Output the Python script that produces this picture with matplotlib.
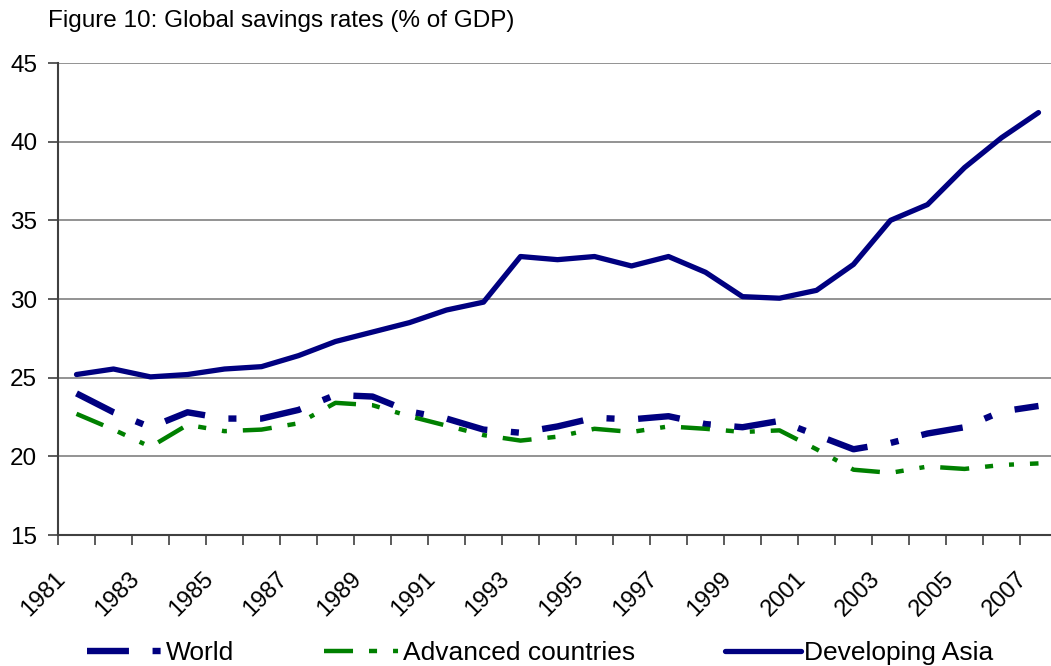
import matplotlib
matplotlib.use("Agg")
import matplotlib.pyplot as plt
from matplotlib.transforms import ScaledTranslation
import numpy as np

plt.rcParams["font.family"] = ["Liberation Sans", "DejaVu Sans"]
plt.rcParams["lines.scale_dashes"] = False

years = list(range(1981, 2008))

world = [24.0, 22.8, 21.85, 22.8, 22.4, 22.4, 22.95, 23.9, 23.8, 22.85,
         22.4, 21.7, 21.5, 21.9, 22.45, 22.35, 22.55, 22.05, 21.85, 22.25,
         21.35, 20.45, 20.85, 21.45, 21.85, 22.85, 23.2]

advanced = [22.7, 21.7, 20.6, 22.0, 21.6, 21.7, 22.1, 23.4, 23.25, 22.55,
            21.95, 21.35, 21.0, 21.25, 21.75, 21.55, 21.9, 21.75, 21.55, 21.65,
            20.45, 19.15, 18.95, 19.35, 19.2, 19.45, 19.55]

developing_asia = [25.2, 25.55, 25.05, 25.2, 25.55, 25.7, 26.4, 27.3, 27.9, 28.5,
                   29.3, 29.8, 32.7, 32.5, 32.7, 32.1, 32.7, 31.7, 30.15, 30.05,
                   30.55, 32.2, 35.0, 36.0, 38.35, 40.25, 41.85]

NAVY = "#000080"
GREEN = "#008000"

fig = plt.figure(figsize=(10.51, 6.66), dpi=100)
ax = fig.add_axes([58 / 1051, 1 - 535 / 666, 999 / 1051, (535 - 63) / 666])

x = np.arange(len(years))
ax.plot(x, world, color=NAVY, lw=4.6, linestyle=(0, (30.2, 17.0, 5.8, 17.0)),
        dash_capstyle="butt", label="World")
ax.plot(x, advanced, color=GREEN, lw=3.2,
        linestyle=(0, (20.9, 11.5, 5.8, 11.5, 3.6, 11.5)),
        dash_capstyle="butt", label="Advanced countries")
ax.plot(x, developing_asia, color=NAVY, lw=3.8, solid_capstyle="round",
        solid_joinstyle="round", label="Developing Asia")

ax.set_xlim(-0.5, len(years) - 0.5)
ax.set_ylim(15, 45)
ax.set_yticks(range(15, 46, 5))
ax.yaxis.grid(True, color="#808080", lw=1.2)
ax.set_axisbelow(True)

# category boundaries get the tick marks, odd years get the labels
ax.set_xticks(np.arange(-0.5, len(years) - 0.5, 1.0))
ax.set_xticklabels([])
ax.set_xticks(x[::2], minor=True)
ax.set_xticklabels([str(y) for y in years[::2]], minor=True, rotation=45,
                   ha="right", va="top", rotation_mode="anchor", fontsize=17)
ax.tick_params(axis="x", which="minor", length=0, pad=23.5)
ax.tick_params(axis="x", which="major", length=7, width=1.2, color="#404040")
ax.tick_params(axis="y", length=7, width=1.2, color="#404040", labelsize=17.5, pad=8)

shift = ScaledTranslation(-0.22, 0, fig.dpi_scale_trans)
for lbl in ax.get_xticklabels(minor=True):
    lbl.set_transform(lbl.get_transform() + shift)

for side in ("top", "right"):
    ax.spines[side].set_visible(False)
for side in ("left", "bottom"):
    ax.spines[side].set_color("#404040")
    ax.spines[side].set_linewidth(1.5)

fig.text(48 / 1051, 1 - 10 / 666, "Figure 10: Global savings rates (% of GDP)",
         fontsize=17.5, va="top", ha="left")

fig.legend(loc="lower left", bbox_to_anchor=(87 / 1051, 1 / 666), ncol=3,
           frameon=False, fontsize=19, handlelength=2.88, handletextpad=0.12,
           columnspacing=3.4, borderpad=0, borderaxespad=0)

fig.savefig("out.png", dpi=100)
